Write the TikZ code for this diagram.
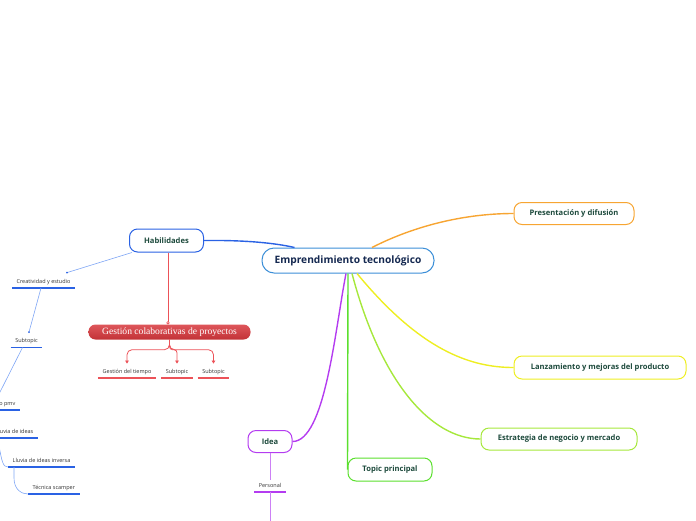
\documentclass[tikz,border=0pt]{standalone}
\usepackage{fontspec}
\setmainfont{Open Sans}
\newfontfamily\slabfont{Liberation Serif}
\usetikzlibrary{calc,arrows.meta}
\definecolor{cblue}{HTML}{3C8FD8}
\definecolor{hblue}{HTML}{2A62E4}
\definecolor{lblue}{HTML}{7FA6F5}
\definecolor{corange}{HTML}{F7A532}
\definecolor{cyellow}{HTML}{EEEE22}
\definecolor{cgreenyel}{HTML}{A6E83C}
\definecolor{cgreen}{HTML}{5BE02E}
\definecolor{cpurple}{HTML}{B43CF0}
\definecolor{lpurple}{HTML}{CC80F5}
\definecolor{cred}{HTML}{D8383D}
\definecolor{lred}{HTML}{EC5258}
\definecolor{navy}{HTML}{142850}
\definecolor{dgreen}{HTML}{1D4A3C}
\definecolor{lbl}{HTML}{333333}
\tikzset{
  topic/.style={draw=#1, line width=1pt, rounded corners=8pt, fill=white,
    font=\bfseries\fontsize{7.6}{9}\selectfont, text=dgreen, inner sep=0pt, minimum height=22pt},
  sublbl/.style={font=\fontsize{5.5}{7}\selectfont, text=lbl, inner xsep=4.5pt, inner ysep=0pt,
    minimum height=12pt,
    append after command={(\tikzlastnode.south west) edge[draw=#1, line width=1.4pt] (\tikzlastnode.south east)}},
  thinb/.style={draw=lblue, line width=0.6pt},
  mainc/.style={line width=1.4pt},
  redl/.style={draw=lred, line width=0.8pt},
}
\begin{document}
\begin{tikzpicture}[x=1pt,y=-1pt]
\useasboundingbox (0,0) rectangle (696,520);
\clip (0,0) rectangle (696,520);
% main nodes
\node[topic=cblue, rounded corners=12pt, minimum width=172pt, minimum height=25pt,
  font=\bfseries\fontsize{10.2}{12}\selectfont, text=navy] (c) at (348,260.5) {Emprendimiento tecnológico};
\node[topic=corange, minimum width=120pt] (pres) at (574,213.5) {Presentación y difusión};
\node[topic=cyellow, minimum width=172pt, minimum height=23pt] (lanz) at (600,367.5) {Lanzamiento y mejoras del producto};
\node[topic=cgreenyel, minimum width=156pt] (estr) at (559,439) {Estrategia de negocio y mercado};
\node[topic=cgreen, minimum width=84pt, minimum height=23pt] (topic) at (390,469.5) {Topic principal};
\node[topic=cpurple, minimum width=44pt] (idea) at (270,441.5) {Idea};
\node[topic=hblue, minimum width=74pt, minimum height=23pt] (hab) at (166.5,240.5) {Habilidades};
\node[top color=cred!85!white, bottom color=cred!90!black, rounded corners=7pt, minimum width=162pt, minimum height=15pt, inner sep=0pt,
  text=white, font=\slabfont\fontsize{9.6}{11}\selectfont] (gest) at (169.5,332) {Gestión colaborativas de proyectos};
% sub labels
\node[sublbl=hblue, anchor=south] (cre) at (43.5,288) {Creatividad y estudio};
\node[sublbl=hblue, anchor=south] (sub) at (26.5,347.5) {Subtopic};
\node[sublbl=hblue, anchor=south east] (pmv) at (20,410) {Prototipo pmv};
\node[sublbl=hblue, anchor=south east] (llu) at (38,438) {Lluvia de ideas};
\node[sublbl=hblue, anchor=south west] (inv) at (8,467) {Lluvia de ideas inversa};
\node[sublbl=hblue, anchor=south west] (tec) at (28,494) {Técnica scamper};
\node[sublbl=lred, anchor=south] (g1) at (127,378) {Gestión del tiempo};
\node[sublbl=lred, anchor=south] (g2) at (177,378) {Subtopic};
\node[sublbl=lred, anchor=south] (g3) at (213.5,378) {Subtopic};
\node[sublbl=cpurple, anchor=south] (pers) at (270,492) {Personal};
\coordinate (offa) at (-1,394);
\coordinate (offb) at (-1,446);
\coordinate (offc) at (270,522);
% central connectors
\draw[mainc, draw=hblue] (hab.east) .. controls (245,240) and (275,243) .. ($(c.north west)+(33,0)$);
\draw[mainc, draw=corange] ($(c.north)+(24,0)$) .. controls (410,228) and (460,213.5) .. (pres.west);
\draw[mainc, draw=cpurple] ($(c.south)+(-2,0)$) .. controls (335,330) and (325,441.5) .. (idea.east);
\draw[mainc, draw=cgreen] (c.south) -- (topic.west);
\draw[mainc, draw=cgreenyel] ($(c.south)+(4,0)$) .. controls (380,380) and (430,439) .. (estr.west);
\draw[mainc, draw=cyellow] ($(c.south)+(9,0)$) .. controls (420,350) and (470,367.5) .. (lanz.west);
% Habilidades branch
\draw[thinb] ($(hab.south west)+(3,0)$) -- ($(cre.north)+(23.5,-3)$) coordinate (d1);
\fill[hblue] (d1) circle (0.9pt);
\draw[thinb] ($(cre.south)+(-2.5,0)$) -- ($(sub.north)+(2.5,-3)$) coordinate (d2);
\fill[hblue] (d2) circle (0.9pt);
\draw[thinb] ($(sub.south)+(-4,0)$) -- (offa);
\draw[thinb] (offb) .. controls (2,462) and (3,467) .. (inv.south west);
\draw[thinb] ($(inv.south west)+(6,0)$) -- ++(0,11) .. controls ++(0,12) and ($(tec.south west)+(-6,0)$) .. (tec.south west);
% Gestion branch
\draw[redl] ($(hab.south)+(1.5,0)$) -- ($(gest.north)+(-1.5,-1.5)$) coordinate (d3);
\draw[lred, fill=white, line width=0.6pt] (d3) circle (1.3pt);
\draw[redl, rounded corners=5pt, -{Triangle[width=3.5pt,length=3pt]}] (gest.south) -- ++(0,10) -| ($(g1.north)+(0,-2)$);
\draw[redl, rounded corners=3pt, -{Triangle[width=3.5pt,length=3pt]}] (gest.south) -- ++(0,10) -| ($(g2.north)+(0,-2)$);
\draw[redl, rounded corners=5pt, -{Triangle[width=3.5pt,length=3pt]}] (gest.south) -- ++(0,10) -| ($(g3.north)+(0,-2)$);
% Idea branch
\draw[draw=lpurple, line width=0.8pt] (idea.south) -- (pers.north);
\draw[draw=lpurple, line width=0.8pt] (pers.south) -- (offc);
\end{tikzpicture}
\end{document}
